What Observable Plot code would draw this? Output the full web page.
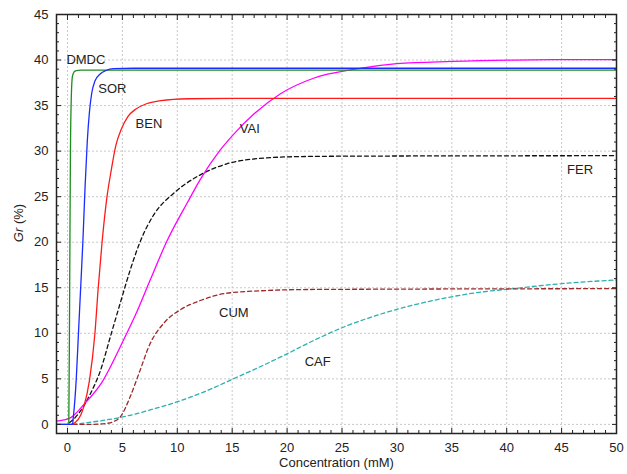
<!DOCTYPE html>
<html>
<head>
<meta charset="utf-8">
<script src="https://cdn.jsdelivr.net/npm/d3@7"></script>
<script src="https://cdn.jsdelivr.net/npm/@observablehq/plot@0.6"></script>
<style>
  html, body { margin: 0; padding: 0; background: #fff; }
</style>
</head>
<body>
<div id="chart"></div>
<script>
// ---- data ----
const xTicks = [0, 5, 10, 15, 20, 25, 30, 35, 40, 45, 50];
const yTicks = [0, 5, 10, 15, 20, 25, 30, 35, 40, 45];

const dmdcX = [-1, 0.12, 0.2, 0.27, 0.35, 0.45, 0.6, 0.8, 1.2, 50];
const dmdcY = [0, 0, 15, 30, 36, 38.2, 38.7, 38.85, 38.9, 38.9];

const sorX = [-1, 0.45, 0.55, 0.8, 1.0, 1.2, 1.4, 1.6, 1.8, 2.0, 2.2, 2.5, 3.0, 3.5, 4.2, 6, 50];
const sorY = [0, 0, 1, 5, 10, 15, 20, 26, 31, 34.3, 36.3, 37.7, 38.5, 38.85, 39.05, 39.1, 39.1];

const benX = [0.3, 0.7, 1.2, 1.5, 2.0, 2.5, 2.8, 3.15, 3.6, 4.0, 4.4, 4.9, 5.5, 6.2, 7.2, 8.5, 11, 15, 50];
const benY = [0, 0.2, 1, 2, 4.8, 10, 15, 20, 25, 28, 30.6, 32.4, 33.8, 34.6, 35.2, 35.55, 35.75, 35.8, 35.8];

const vaiX = [-1, 0, 0.3, 1.5, 3.15, 5.0, 6.3, 7.55, 9.05, 10.9, 12.1, 13.9, 15.4, 17, 19.4, 22.4, 26.2, 30, 35, 40.5, 45, 50];
const vaiY = [0.35, 0.6, 0.75, 2.2, 4.65, 9.0, 12.3, 15.9, 20.1, 24.3, 26.9, 30.1, 32.2, 34.1, 36.3, 38.0, 39.0, 39.6, 39.85, 40.0, 40.05, 40.05];

const ferX = [0.2, 0.5, 1.2, 2.1, 3.0, 3.9, 4.8, 5.7, 6.6, 7.85, 9.7, 12.1, 14.5, 17.5, 21.2, 26, 50];
const ferY = [0.2, 0.5, 1.5, 3.4, 5.9, 9.6, 13.3, 16.9, 20.0, 23.0, 25.4, 27.4, 28.6, 29.2, 29.4, 29.45, 29.5];

const cumX = [0.5, 2, 3.5, 4.2, 4.8, 5.7, 6.6, 7.5, 8.76, 10.3, 12.1, 14.5, 18.2, 21.2, 30, 50];
const cumY = [0, 0, 0.1, 0.3, 0.8, 3.0, 5.9, 8.8, 11.1, 12.6, 13.6, 14.4, 14.7, 14.8, 14.85, 14.9];

const cafX = [0.5, 1.5, 3.6, 5.7, 7.85, 10.3, 12.7, 15.1, 17.5, 20, 22.4, 25.4, 28.5, 31.5, 34.5, 37.5, 40.6, 43.6, 46.6, 50];
const cafY = [0, 0.15, 0.5, 1.0, 1.7, 2.6, 3.7, 5.0, 6.3, 7.75, 9.2, 10.8, 12.1, 13.1, 13.9, 14.5, 14.9, 15.3, 15.6, 15.85];

// series labels: name and anchor in data units
const labelNames = ["DMDC", "SOR", "BEN", "VAI", "FER", "CUM", "CAF"];
const labelX = [-0.1, 2.8, 6.2, 15.7, 45.5, 13.8, 21.6];
const labelY = [40, 36.8, 33.0, 32.5, 27.9, 12.2, 6.9];

// ---- build tables ----
const toRows = (xs, ys) => xs.map((x, i) => ({x, y: ys[i]}));
const seriesData = {
  CAF: toRows(cafX, cafY),
  CUM: toRows(cumX, cumY),
  FER: toRows(ferX, ferY),
  VAI: toRows(vaiX, vaiY),
  BEN: toRows(benX, benY),
  DMDC: toRows(dmdcX, dmdcY),
  SOR: toRows(sorX, sorY)
};
const styles = {
  CAF: {stroke: "#2bb0b0", dash: "4,3"},
  CUM: {stroke: "#9b2a2a", dash: "4,3"},
  FER: {stroke: "#111111", dash: "4,3"},
  VAI: {stroke: "#ff00ff", dash: null},
  BEN: {stroke: "#ff1a1a", dash: null},
  DMDC: {stroke: "#1e8c1e", dash: null},
  SOR: {stroke: "#1a2cff", dash: null}
};
const labels = labelNames.map((name, i) => ({name, x: labelX[i], y: labelY[i]}));

const minorX = d3.range(-1, 51, 1).filter(v => v % 5 !== 0);
const minorY = d3.range(-1, 46, 1).filter(v => v % 5 !== 0);
const majorX = xTicks;
const majorY = yTicks;

const lineMarks = Object.keys(seriesData).map(k => Plot.line(seriesData[k], {
  x: "x", y: "y", stroke: styles[k].stroke, strokeWidth: 1.3,
  strokeDasharray: styles[k].dash, curve: "monotone-x", clip: true
}));

const tickAxes = [];
for (const [ticks, len] of [[minorX, 3], [majorX, 5]]) {
  tickAxes.push(Plot.axisX({anchor: "bottom", ticks, tickSize: len, dy: -len, text: null, label: null}));
  tickAxes.push(Plot.axisX({anchor: "top", ticks, tickSize: len, dy: len, text: null, label: null}));
}
for (const [ticks, len] of [[minorY, 3], [majorY, 5]]) {
  tickAxes.push(Plot.axisY({anchor: "left", ticks, tickSize: len, dx: len, text: null, label: null}));
  tickAxes.push(Plot.axisY({anchor: "right", ticks, tickSize: len, dx: -len, text: null, label: null}));
}

const plot = Plot.plot({
  width: 627,
  height: 474,
  marginLeft: 56,
  marginRight: 11,
  marginTop: 14,
  marginBottom: 41,
  style: {fontFamily: "'Liberation Sans', Arial, sans-serif", fontSize: "13px", background: "#fff", color: "#222"},
  x: {domain: [-1, 50]},
  y: {domain: [-1, 45]},
  marks: [
    Plot.gridX(xTicks.filter(v => v < 50), {stroke: "#c8c8c8", strokeOpacity: 1, strokeDasharray: "2,2"}),
    Plot.gridY(yTicks.filter(v => v < 45), {stroke: "#c8c8c8", strokeOpacity: 1, strokeDasharray: "2,2"}),
    ...lineMarks,
    Plot.text(labels, {x: "x", y: "y", text: "name", textAnchor: "start", fill: "#222", fontSize: 13}),
    Plot.axisX({anchor: "bottom", ticks: xTicks, tickSize: 0, tickPadding: 9, label: null, fill: "#222"}),
    Plot.axisY({anchor: "left", ticks: yTicks, tickSize: 0, tickPadding: 8, label: null, fill: "#222"}),
    ...tickAxes,
    Plot.frame({stroke: "#222", strokeWidth: 1.5}),
    Plot.text(["Concentration (mM)"], {frameAnchor: "bottom", dy: 33, text: d => d, fill: "#222", fontSize: 13})
  ]
});

// y-axis title with italic "Gr"
const yt = d3.select(plot).append("text")
  .attr("transform", "translate(20,223) rotate(-90)")
  .attr("text-anchor", "middle")
  .attr("dominant-baseline", "middle")
  .attr("fill", "#222")
  .attr("font-size", 13);
yt.append("tspan").attr("font-style", "italic").text("Gr");
yt.append("tspan").text(" (%)");

document.getElementById("chart").appendChild(plot);
</script>
</body>
</html>
